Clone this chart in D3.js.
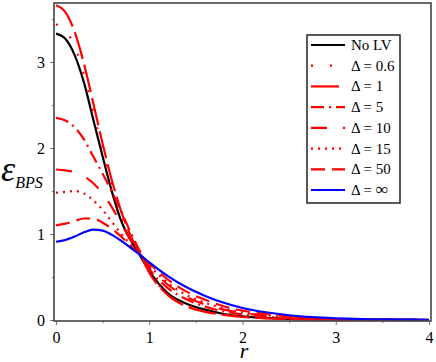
<!DOCTYPE html>
<html>
<head>
<meta charset="utf-8">
<script src="https://cdn.jsdelivr.net/npm/d3@7"></script>
<style>
  body { margin: 0; background: #fff; }
  svg { display: block; font-family: "Liberation Serif", "DejaVu Serif", serif; }
</style>
</head>
<body>
<svg id="chart" width="436" height="362"></svg>
<script>
// radial coordinate samples
const rValues = [0, 0.1, 0.2, 0.3, 0.4, 0.5, 0.6, 0.7, 0.8, 0.9, 1.0, 1.2, 1.4, 1.6, 1.8, 2.0, 2.25, 2.5, 2.75, 3.0, 3.5, 4.0];

// energy density curves
const noLV     = [3.33, 3.27, 3.08, 2.76, 2.33, 1.90, 1.49, 1.15, 0.93, 0.75, 0.57, 0.31, 0.19, 0.12, 0.07, 0.042, 0.024, 0.013, 0.007, 0.004, 0.001, 0];
const delta06  = [3.44, 3.37, 3.18, 2.85, 2.42, 1.97, 1.55, 1.20, 0.95, 0.77, 0.56, 0.30, 0.175, 0.105, 0.065, 0.04, 0.022, 0.012, 0.007, 0.004, 0.001, 0];
const delta1   = [3.66, 3.58, 3.35, 2.98, 2.52, 2.05, 1.62, 1.26, 0.98, 0.77, 0.55, 0.29, 0.16, 0.095, 0.06, 0.035, 0.02, 0.011, 0.006, 0.003, 0.001, 0];
const delta5   = [2.35, 2.32, 2.24, 2.10, 1.90, 1.70, 1.49, 1.26, 1.02, 0.80, 0.60, 0.37, 0.24, 0.155, 0.10, 0.065, 0.038, 0.022, 0.013, 0.008, 0.003, 0.001];
const delta10  = [1.75, 1.74, 1.72, 1.67, 1.59, 1.47, 1.31, 1.12, 0.93, 0.77, 0.62, 0.41, 0.27, 0.18, 0.12, 0.08, 0.05, 0.03, 0.018, 0.011, 0.004, 0.001];
const delta15  = [1.48, 1.49, 1.50, 1.47, 1.39, 1.28, 1.14, 1.00, 0.88, 0.77, 0.64, 0.43, 0.29, 0.20, 0.135, 0.09, 0.056, 0.034, 0.02, 0.012, 0.004, 0.002];
const delta50  = [1.10, 1.12, 1.15, 1.18, 1.18, 1.13, 1.06, 0.97, 0.86, 0.76, 0.66, 0.47, 0.33, 0.235, 0.16, 0.11, 0.07, 0.043, 0.026, 0.016, 0.006, 0.002];
const deltaInf = [0.91, 0.93, 0.97, 1.02, 1.05, 1.04, 0.99, 0.92, 0.84, 0.76, 0.67, 0.51, 0.38, 0.28, 0.20, 0.14, 0.09, 0.055, 0.033, 0.02, 0.007, 0.003];

const legendLabels = ["No LV", "Δ = 0.6", "Δ = 1", "Δ = 5", "Δ = 10", "Δ = 15", "Δ = 50", "Δ = ∞"];
const xTicks = [0, 1, 2, 3, 4];
const xMinorTicks = [0.5, 1.5, 2.5, 3.5];
const yTicks = [0, 1, 2, 3];
const yMinorTicks = [0.5, 1.5, 2.5, 3.5];

const series = [
  { name: legendLabels[0], values: noLV,     color: "#000000", dash: null },
  { name: legendLabels[1], values: delta06,  color: "#ff0000", dash: "2,17" },
  { name: legendLabels[2], values: delta1,   color: "#ff0000", dash: "28,6" },
  { name: legendLabels[3], values: delta5,   color: "#ff0000", dash: "13,5,2,5" },
  { name: legendLabels[4], values: delta10,  color: "#ff0000", dash: "16,16" },
  { name: legendLabels[5], values: delta15,  color: "#ff0000", dash: "2,5" },
  { name: legendLabels[6], values: delta50,  color: "#ff0000", dash: "14,7" },
  { name: legendLabels[7], values: deltaInf, color: "#0000ff", dash: null }
];

const svg = d3.select("#chart");
const plotLeft = 54, plotRight = 431, plotTop = 3, plotBottom = 321;

// x(0)=56, x(4)=429 ; y(0)=320, 86px per unit
const x = d3.scaleLinear().domain([-2 / 93.25, 4 + 2 / 93.25]).range([plotLeft, plotRight]);
const y = d3.scaleLinear().domain([-1 / 86, (plotBottom - plotTop - 1) / 86]).range([plotBottom, plotTop]);

svg.append("clipPath").attr("id", "plot-clip")
  .append("rect").attr("x", plotLeft).attr("y", plotTop)
  .attr("width", plotRight - plotLeft).attr("height", plotBottom - plotTop);

// axes
const yAxis = svg.append("g").attr("transform", `translate(${plotLeft},0)`)
  .call(d3.axisLeft(y).tickValues(yTicks).tickSize(4).tickPadding(5).tickFormat(d3.format("d")));
const yMinor = svg.append("g").attr("transform", `translate(${plotLeft},0)`)
  .call(d3.axisLeft(y).tickValues(yMinorTicks).tickSize(2).tickFormat(""));
const xAxis = svg.append("g").attr("transform", `translate(0,${plotBottom})`)
  .call(d3.axisBottom(x).tickValues(xTicks).tickSize(4).tickPadding(7).tickFormat(d3.format("d")));
const xMinor = svg.append("g").attr("transform", `translate(0,${plotBottom})`)
  .call(d3.axisBottom(x).tickValues(xMinorTicks).tickSize(2).tickFormat(""));

[yAxis, yMinor, xAxis, xMinor].forEach(g => {
  g.select(".domain").remove();
  g.selectAll(".tick line").attr("stroke", "#777");
  g.selectAll(".tick text").attr("fill", "#000").style("font-size", "16px")
    .style("font-family", "'Liberation Serif', serif");
});

// curves
const line = d3.line()
  .x((d, i) => x(rValues[i]))
  .y(d => y(d))
  .curve(d3.curveMonotoneX);

const curves = svg.append("g").attr("clip-path", "url(#plot-clip)");
series.forEach(s => {
  curves.append("path")
    .datum(s.values)
    .attr("d", line)
    .attr("fill", "none")
    .attr("stroke", s.color)
    .attr("stroke-width", 2.2)
    .attr("stroke-dasharray", s.dash);
});

// frame
svg.append("rect")
  .attr("x", plotLeft).attr("y", plotTop)
  .attr("width", plotRight - plotLeft).attr("height", plotBottom - plotTop)
  .attr("fill", "none").attr("stroke", "#444").attr("stroke-width", 1.6);

// axis titles
svg.append("text")
  .attr("x", 244).attr("y", 358)
  .attr("text-anchor", "middle")
  .style("font-style", "italic").style("font-size", "22px")
  .text("r");

const yTitle = svg.append("text").attr("x", 1).attr("y", 181).style("font-style", "italic");
yTitle.append("tspan").style("font-size", "36px").text("ε");
yTitle.append("tspan").attr("dy", 7).style("font-size", "16px").text("BPS");

// legend
const legend = svg.append("g");
legend.append("rect")
  .attr("x", 307).attr("y", 35).attr("width", 93).attr("height", 168)
  .attr("fill", "#fff").attr("stroke", "#222").attr("stroke-width", 1.5);

const rowY = d3.scaleLinear().domain([0, series.length - 1]).range([45, 190]);
series.forEach((s, i) => {
  const cy = rowY(i);
  legend.append("line")
    .attr("x1", 311).attr("x2", 345).attr("y1", cy).attr("y2", cy)
    .attr("stroke", s.color).attr("stroke-width", 2.2)
    .attr("stroke-dasharray", s.dash);
  const t = legend.append("text")
    .attr("x", 351).attr("y", cy + 5)
    .style("font-size", "15px");
  if (s.name.endsWith("∞")) {
    t.append("tspan").text("Δ =  ");
    t.append("tspan").style("font-style", "italic").style("font-size", "17px").text("∞");
  } else {
    t.text(s.name);
  }
});
</script>
</body>
</html>
